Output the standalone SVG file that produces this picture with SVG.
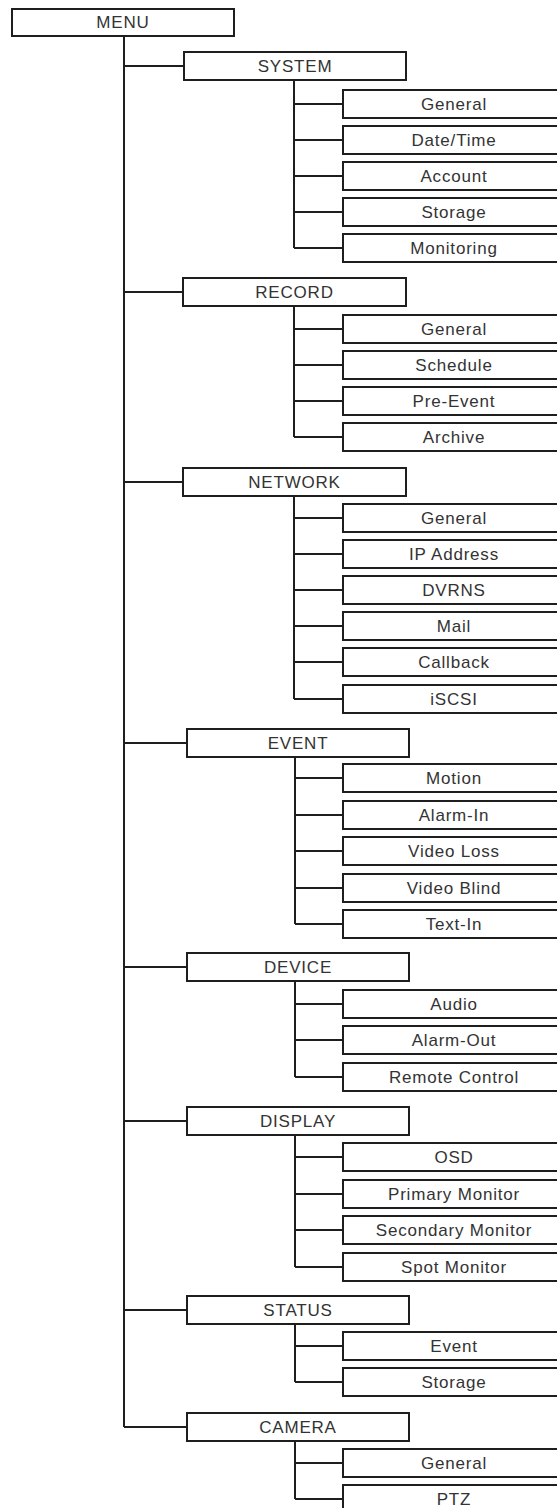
<svg xmlns="http://www.w3.org/2000/svg" width="557" height="1508" viewBox="0 0 557 1508">
<style>
.box{fill:#fff;stroke:#1e1e1e;stroke-width:2}
.ln{fill:none;stroke:#1e1e1e;stroke-width:2}
.t{font-family:"Liberation Sans",Arial,sans-serif;font-size:17px;letter-spacing:0.8px;fill:#333;text-anchor:middle}
</style>
<rect width="557" height="1508" fill="#fff"/>
<g id="connectors">
<path class="ln" d="M124 36V1427"/>
<path class="ln" d="M124 66H184M124 292H183M124 482H183M124 743H187M124 967H187M124 1121H187M124 1310H187M124 1427H187"/>
<path class="ln" d="M294 80V248M294 104H343M294 140H343M294 176H343M294 212H343M294 248H343"/>
<path class="ln" d="M294 306V437M294 329H343M294 365H343M294 401H343M294 437H343"/>
<path class="ln" d="M294 496V699M294 518H343M294 554H343M294 590H343M294 626H343M294 662H343M294 699H343"/>
<path class="ln" d="M295 757V924M295 778H343M295 815H343M295 851H343M295 888H343M295 924H343"/>
<path class="ln" d="M295 981V1077M295 1004H343M295 1040H343M295 1077H343"/>
<path class="ln" d="M295 1135V1267M295 1157H343M295 1194H343M295 1230H343M295 1267H343"/>
<path class="ln" d="M295 1324V1382M295 1346H343M295 1382H343"/>
<path class="ln" d="M295 1441V1499M295 1463H343M295 1499H343"/>
</g>
<g id="menu"><rect class="box" x="12" y="9" width="222" height="27"/><text class="t" x="123" y="28">MENU</text></g>

<g id="system"><rect class="box" x="184" y="52" width="222" height="28"/><text class="t" x="295" y="72">SYSTEM</text></g>
<g id="system-general"><rect class="box" x="343" y="90" width="225" height="28"/><text class="t" x="454" y="110">General</text></g>
<g id="system-datetime"><rect class="box" x="343" y="126" width="225" height="28"/><text class="t" x="454" y="146">Date/Time</text></g>
<g id="system-account"><rect class="box" x="343" y="162" width="225" height="28"/><text class="t" x="454" y="182">Account</text></g>
<g id="system-storage"><rect class="box" x="343" y="198" width="225" height="28"/><text class="t" x="454" y="218">Storage</text></g>
<g id="system-monitoring"><rect class="box" x="343" y="234" width="225" height="28"/><text class="t" x="454" y="254">Monitoring</text></g>

<g id="record"><rect class="box" x="183" y="278" width="223" height="28"/><text class="t" x="294.5" y="298">RECORD</text></g>
<g id="record-general"><rect class="box" x="343" y="315" width="225" height="28"/><text class="t" x="454" y="335">General</text></g>
<g id="record-schedule"><rect class="box" x="343" y="351" width="225" height="28"/><text class="t" x="454" y="371">Schedule</text></g>
<g id="record-preevent"><rect class="box" x="343" y="387" width="225" height="28"/><text class="t" x="454" y="407">Pre-Event</text></g>
<g id="record-archive"><rect class="box" x="343" y="423" width="225" height="28"/><text class="t" x="454" y="443">Archive</text></g>

<g id="network"><rect class="box" x="183" y="468" width="223" height="28"/><text class="t" x="294.5" y="488">NETWORK</text></g>
<g id="network-general"><rect class="box" x="343" y="504" width="225" height="28"/><text class="t" x="454" y="524">General</text></g>
<g id="network-ip"><rect class="box" x="343" y="540" width="225" height="28"/><text class="t" x="454" y="560">IP Address</text></g>
<g id="network-dvrns"><rect class="box" x="343" y="576" width="225" height="28"/><text class="t" x="454" y="596">DVRNS</text></g>
<g id="network-mail"><rect class="box" x="343" y="612" width="225" height="28"/><text class="t" x="454" y="632">Mail</text></g>
<g id="network-callback"><rect class="box" x="343" y="648" width="225" height="28"/><text class="t" x="454" y="668">Callback</text></g>
<g id="network-iscsi"><rect class="box" x="343" y="685" width="225" height="28"/><text class="t" x="454" y="705">iSCSI</text></g>

<g id="event"><rect class="box" x="187" y="729" width="222" height="28"/><text class="t" x="298" y="749">EVENT</text></g>
<g id="event-motion"><rect class="box" x="343" y="764" width="225" height="28"/><text class="t" x="454" y="784">Motion</text></g>
<g id="event-alarmin"><rect class="box" x="343" y="801" width="225" height="28"/><text class="t" x="454" y="821">Alarm-In</text></g>
<g id="event-videoloss"><rect class="box" x="343" y="837" width="225" height="28"/><text class="t" x="454" y="857">Video Loss</text></g>
<g id="event-videoblind"><rect class="box" x="343" y="874" width="225" height="28"/><text class="t" x="454" y="894">Video Blind</text></g>
<g id="event-textin"><rect class="box" x="343" y="910" width="225" height="28"/><text class="t" x="454" y="930">Text-In</text></g>

<g id="device"><rect class="box" x="187" y="953" width="222" height="28"/><text class="t" x="298" y="973">DEVICE</text></g>
<g id="device-audio"><rect class="box" x="343" y="990" width="225" height="28"/><text class="t" x="454" y="1010">Audio</text></g>
<g id="device-alarmout"><rect class="box" x="343" y="1026" width="225" height="28"/><text class="t" x="454" y="1046">Alarm-Out</text></g>
<g id="device-remote"><rect class="box" x="343" y="1063" width="225" height="28"/><text class="t" x="454" y="1083">Remote Control</text></g>

<g id="display"><rect class="box" x="187" y="1107" width="222" height="28"/><text class="t" x="298" y="1127">DISPLAY</text></g>
<g id="display-osd"><rect class="box" x="343" y="1143" width="225" height="28"/><text class="t" x="454" y="1163">OSD</text></g>
<g id="display-primary"><rect class="box" x="343" y="1180" width="225" height="28"/><text class="t" x="454" y="1200">Primary Monitor</text></g>
<g id="display-secondary"><rect class="box" x="343" y="1216" width="225" height="28"/><text class="t" x="454" y="1236">Secondary Monitor</text></g>
<g id="display-spot"><rect class="box" x="343" y="1253" width="225" height="28"/><text class="t" x="454" y="1273">Spot Monitor</text></g>

<g id="status"><rect class="box" x="187" y="1296" width="222" height="28"/><text class="t" x="298" y="1316">STATUS</text></g>
<g id="status-event"><rect class="box" x="343" y="1332" width="225" height="28"/><text class="t" x="454" y="1352">Event</text></g>
<g id="status-storage"><rect class="box" x="343" y="1368" width="225" height="28"/><text class="t" x="454" y="1388">Storage</text></g>

<g id="camera"><rect class="box" x="187" y="1413" width="222" height="28"/><text class="t" x="298" y="1433">CAMERA</text></g>
<g id="camera-general"><rect class="box" x="343" y="1449" width="225" height="28"/><text class="t" x="454" y="1469">General</text></g>
<g id="camera-ptz"><rect class="box" x="343" y="1485" width="225" height="28"/><text class="t" x="454" y="1505">PTZ</text></g>
</svg>
